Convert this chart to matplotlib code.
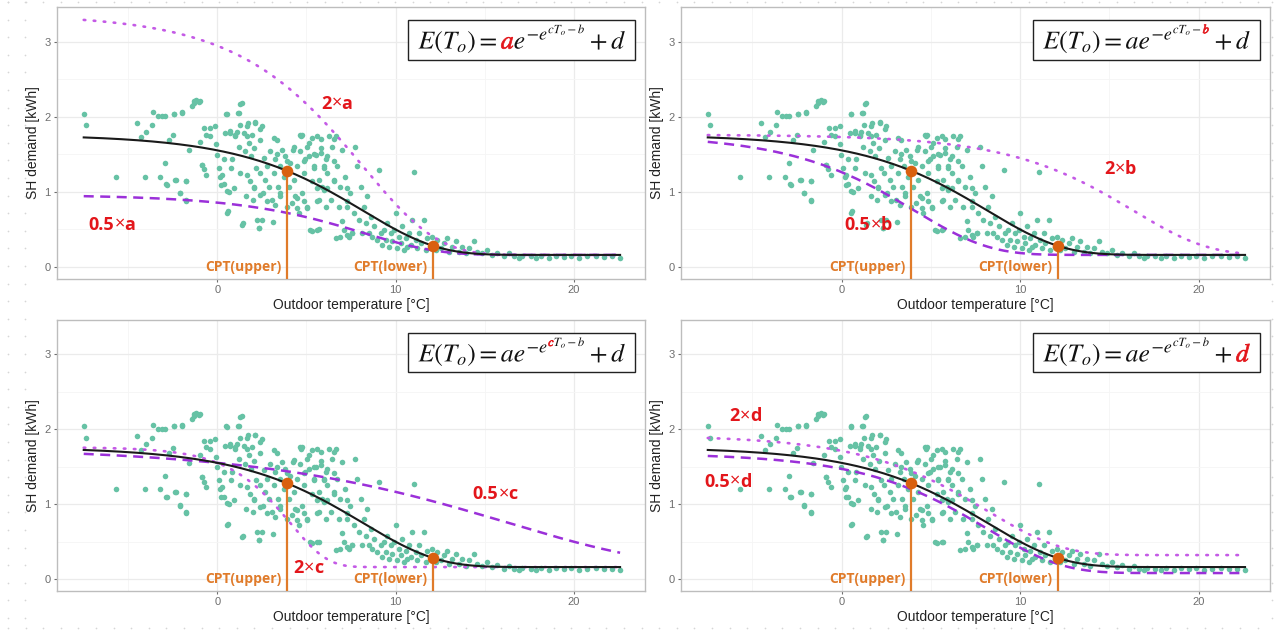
import numpy as np
import matplotlib
matplotlib.use("Agg")
import matplotlib.pyplot as plt
from matplotlib.patches import Rectangle, PathPatch
from matplotlib.path import Path
from matplotlib.transforms import Affine2D, offset_copy
from matplotlib.textpath import TextToPath
from matplotlib.font_manager import FontProperties

plt.rcParams["font.family"] = ["Liberation Sans", "DejaVu Sans"]
plt.rcParams["mathtext.fontset"] = "stix"

# daily outdoor temperature [°C] and space heating demand [kWh]
temp = [-7.51, -7.36, -5.69, -4.49, -4.27, -4.08, -4.0, -3.67, -3.61, -3.35, -3.2, -3.11,
        -2.96, -2.94, -2.83, -2.73, -2.45, -2.49, -2.3, -2.1, -1.99, -1.74, -1.74, -1.59,
        -1.42, -1.33, -1.18, -0.99, -0.96, -0.86, -0.73, -0.62, -0.39, -0.11, -0.07, -0.02,
        0.07, 0.17, 0.22, 0.36, 0.45, 0.51, 0.58, 0.64, 0.73, 0.77, 0.82, 0.92, 1.01, 1.1,
        1.14, 1.2, 1.25, 1.29, 1.39, 1.42, 1.48, 1.57, 1.63, 1.67, 1.7, 1.76, 1.82, 1.89,
        1.95, 1.99, 2.04, 2.08, 2.13, 2.19, 2.23, 2.32, 2.38, 2.42, 2.51, 2.55, 2.6, 2.7,
        2.79, 2.88, 2.98, 3.07, 3.13, 3.16, 3.26, 3.35, 3.39, 3.5, 3.54, 3.63, 3.73, 3.82,
        3.91, 4.01, 4.1, 4.19, 4.25, 4.29, 4.38, 4.48, 4.57, 4.66, 4.72, 4.76, 4.85, 4.94,
        5.04, 5.13, 5.22, 5.32, 5.41, 5.51, 5.6, 5.69, 5.79, 5.88, 5.97, 6.07, 6.16, 6.25,
        4.76, 5.03, 5.13, 5.41, 5.6, 5.69, 5.79, 5.97, 6.07, 6.16, 6.35, 6.44, 6.54, 6.63,
        6.72, 6.81, 6.91, 7.0, 7.1, 7.19, 7.28, 7.38, 7.47, 7.57, 7.66, 7.75, 7.85, 7.94,
        8.04, 8.13, 8.22, 8.32, 8.41, 8.5, 8.6, 8.69, 8.79, 8.97, 9.07, 9.16, 9.25, 9.34,
        9.44, 9.53, 9.63, 9.72, 9.81, 9.91, 10.0, 10.09, 10.19, 10.28, 10.38, 10.47, 10.56,
        10.66, 10.75, 10.85, 10.94, 11.03, 11.13, 11.22, 11.31, 11.41, 11.6, 11.69, 11.78,
        11.97, 12.06, 12.25, 12.34, 12.53, 12.72, 12.9, 13.0, 13.19, 13.38, 13.56, 13.75,
        13.94, 14.12, 14.4, 14.59, 14.87, 15.15, 15.43, 15.71, 16.09, 16.37, 16.65, 16.93,
        17.12, 17.58, 17.87, 18.15, 18.61, 18.99, 19.46, 19.83, 20.3, 20.77, 21.24, 21.71,
        22.17, 22.6, -1.33, -1.05, -2.45, -1.99, 0.54, 1.29, 1.2, 0.73, 1.01, 1.67, 2.13,
        2.42, 3.16, 4.66, 5.32, 5.79, 6.54, -0.39, -0.77, -0.62, -0.86, -1.74, -2.36, -2.87,
        -2.08, -1.74, 0.54, 1.39, 2.32, 2.51, 5.32, 5.69, 6.63, 6.91, 7.28, 7.57, 7.0, 0.26,
        0.36, 0.54, 1.67, 2.04, 2.42, 2.79, 3.26, 3.54, 4.48, 4.85, 4.48, 5.04, 5.6, 6.16,
        3.35, 3.91, 4.29, 4.85, 5.41, 5.97, 6.54, 6.54, 5.6, 7.28, 7.28]
demand = [2.04, 1.89, 1.2, 1.91, 1.73, 1.2, 1.8, 1.89, 2.06, 2.01, 1.2, 2.01,
          2.01, 1.38, 1.09, 1.69, 2.04, 1.75, 1.16, 0.98, 2.06, 1.14, 0.88, 1.55,
          2.14, 2.18, 2.22, 2.21, 1.66, 1.36, 1.85, 1.23, 1.74, 1.87, 1.63, 1.49,
          1.32, 1.2, 1.09, 1.43, 1.78, 2.04, 0.74, 1.0, 1.78, 1.32, 1.43, 1.05, 1.74, 1.8,
          2.05, 1.6, 1.89, 1.25, 2.18, 0.58, 1.78, 1.54, 0.94, 1.74, 1.92, 1.65, 1.14, 1.47,
          1.76, 0.89, 1.07, 1.58, 1.93, 1.32, 0.63, 0.52, 1.25, 1.69, 1.87, 0.98, 1.45, 1.16,
          1.34, 1.07, 1.54, 0.89, 0.6, 1.25, 1.43, 1.69, 1.07, 1.34, 0.98, 1.56, 1.2, 1.47,
          0.8, 1.07, 1.38, 0.85, 1.56, 1.16, 0.94, 1.34, 0.72, 1.54, 1.74, 0.98, 1.25, 1.43,
          0.8, 1.65, 0.49, 1.14, 1.32, 1.49, 0.49, 0.89, 1.58, 1.07, 1.34, 0.8, 1.47, 1.74,
          1.76, 1.6, 1.47, 1.34, 1.74, 1.16, 1.52, 1.03, 1.43, 1.25, 0.89, 1.6, 1.16, 1.74,
          1.34, 0.8, 1.07, 1.56, 0.49, 1.2, 0.8, 0.4, 0.98, 0.45, 0.72, 1.6, 1.34, 0.63,
          1.07, 0.45, 0.8, 0.58, 0.94, 0.45, 0.67, 0.4, 0.54, 0.36, 1.29, 0.45, 0.29, 0.49,
          0.36, 0.58, 0.27, 0.45, 0.34, 0.49, 0.72, 0.25, 0.4, 0.32, 0.54, 0.23, 0.38,
          0.27, 0.45, 0.29, 0.63, 1.27, 0.36, 0.25, 0.45, 0.32, 0.63, 0.23, 0.38,
          0.27, 0.4, 0.23, 0.36, 0.25, 0.32, 0.38, 0.2, 0.27, 0.34, 0.2, 0.27,
          0.18, 0.25, 0.34, 0.2, 0.18, 0.23, 0.16, 0.19, 0.14, 0.18, 0.14, 0.12,
          0.15, 0.14, 0.12, 0.15, 0.12, 0.15, 0.13, 0.15, 0.12, 0.14, 0.15, 0.13,
          0.14, 0.12, 2.21, 2.19, 2.04, 2.05, 2.03, 2.17, 2.05, 1.81, 1.76, 1.88, 1.92,
          1.83, 1.72, 1.76, 1.72, 1.7, 1.7, 1.85, 1.3, 1.76, 1.36, 1.14, 1.16, 1.1,
          0.99, 0.89, 0.72, 0.56, 0.52, 0.63, 0.48, 0.5, 0.39, 0.4, 0.43, 0.45, 0.61, 1.23,
          1.1, 1.01, 1.23, 1.05, 0.96, 0.88, 0.83, 0.94, 0.92, 0.88, 0.79, 0.79, 0.88, 1.05,
          1.5, 1.41, 1.59, 1.41, 1.5, 1.32, 1.41, 1.14, 1.05, 1.05, 0.88]

# fitted Gompertz model E(T) = a*exp(-exp(c*T - b)) + d
fit = {"a": 1.6, "b": 1.97, "c": 0.241, "d": 0.16}
t_range = (-7.5, 22.6)
cpt_upper, cpt_lower = 3.9, 12.1

panel_keys = ["a", "b", "c", "d"]
# where the "2x" and "0.5x" labels sit in each panel (T, E)
label_double = [(6.7, 2.19), (15.6, 1.32), (5.1, 0.16), (-5.4, 2.19)]
label_half = [(-5.9, 0.58), (1.5, 0.57), (15.6, 1.15), (-6.35, 1.32)]

teal = "#66C2A5"
purple_dash = "#9B30D9"
violet_dot = "#C45AE6"
orange = "#E07B2A"
orange_pt = "#D9600F"
red = "#E3161B"
label_font = ["Open Sans", "DejaVu Sans"]
eq_full = r"$E(T_o) = ae^{-e^{cT_o-b}} + d$"
eq_size = 18.5
DPI = 100


def gompertz(t, a, b, c, d):
    return a * np.exp(-np.exp(c * t - b)) + d


def style_axes(ax):
    ax.set_xlim(-9.0, 24.0)
    ax.set_ylim(-0.16, 3.46)
    ax.set_xticks([0, 10, 20])
    ax.set_yticks([0, 1, 2, 3])
    ax.set_xticks([-5, 5, 15], minor=True)
    ax.set_yticks([0.5, 1.5, 2.5], minor=True)
    ax.grid(which="major", color="#EBEBEB", lw=0.9)
    ax.grid(which="minor", color="#F5F5F5", lw=0.6)
    ax.set_axisbelow(True)
    for s in ax.spines.values():
        s.set_color("#BDBDBD")
        s.set_linewidth(1.0)
    ax.tick_params(which="major", length=2.5, color="#6E6E6E", labelsize=8,
                   labelcolor="#6E6E6E", pad=2)
    ax.tick_params(which="minor", length=0)
    ax.set_xlabel("Outdoor temperature [°C]", fontsize=10, color="#222222", labelpad=2)
    ax.set_ylabel("SH demand [kWh]", fontsize=10, color="#222222", labelpad=3)


def text_width(ax, renderer, s, **kw):
    t = ax.text(0, 0, s, **kw)
    w = t.get_window_extent(renderer).width
    t.remove()
    return w


def multiply_label(ax, renderer, x, y, factor, key):
    parts = [(factor, "bold"), ("×", "normal"), (key, "bold")]
    widths = [text_width(ax, renderer, s, fontsize=13, fontweight=w, family=label_font)
              for s, w in parts]
    dx = -sum(widths) / 2
    for (s, w), wd in zip(parts, widths):
        tr = offset_copy(ax.transData, fig=fig, x=dx, y=0, units="dots")
        ax.text(x, y - 0.085, s, transform=tr, fontsize=13, fontweight=w,
                family=label_font, color=red, ha="left", va="baseline", zorder=8)
        dx += wd


# glyph outlines of the model equation, kept separate so one coefficient can be coloured
ttp = TextToPath()
glyph_info, glyph_map, eq_rects = ttp.get_glyphs_mathtext(FontProperties(size=eq_size), eq_full)
eq_glyphs = []
for gid, gx, gy, gscale in glyph_info:
    verts, codes = glyph_map[gid]
    code = int(gid.rsplit("-", 1)[1], 16)
    eq_glyphs.append((code, np.asarray(verts) * gscale + [gx, gy], codes))
eq_rects = [(np.asarray(v), c) for v, c in eq_rects]
all_v = np.vstack([g[1] for g in eq_glyphs] + [r[0] for r in eq_rects])
eq_xmin, eq_xmax = all_v[:, 0].min(), all_v[:, 0].max()
# TextToPath works at 100 pt; scale to pixels at the figure dpi
eq_scale = eq_size / ttp.FONT_SCALE * DPI / 72


def equation_box(ax, key):
    x0, x1, y0, y1 = 10.7, 23.45, 2.76, 3.29
    ax.add_patch(Rectangle((x0, y0), x1 - x0, y1 - y0, facecolor="white",
                           edgecolor="#222222", lw=1.0, zorder=6))
    cx = ax.transData.transform(((x0 + x1) / 2, 0))[0]
    base = ax.transData.transform((0, 2.905))[1]
    left = cx - (eq_xmin + eq_xmax) / 2 * eq_scale
    tr = Affine2D().scale(eq_scale).translate(left, base)
    wanted = (ord(key), 0x1D44E + ord(key) - ord("a"))
    for code, verts, codes in eq_glyphs:
        hot = code in wanted
        p = PathPatch(Path(verts, codes), transform=tr, zorder=7, snap=False,
                      facecolor=red if hot else "#111111",
                      edgecolor=red if hot else "none", lw=0.5 if hot else 0)
        fig.add_artist(p)
    for verts, codes in eq_rects:
        fig.add_artist(PathPatch(Path(verts, codes), transform=tr, zorder=7, snap=False,
                                 facecolor="#111111", edgecolor="none"))


fig = plt.figure(figsize=(12.75, 6.34), dpi=DPI)
positions = [[0.0447, 0.560, 0.4612, 0.429], [0.5341, 0.560, 0.4620, 0.429],
             [0.0447, 0.0678, 0.4612, 0.4275], [0.5341, 0.0678, 0.4620, 0.4275]]

# faint dotted slide background along the edges
bg = fig.add_axes([0, 0, 1, 1], zorder=-5)
bg.set_xlim(0, 1275)
bg.set_ylim(634, 0)
bg.axis("off")
dots_x = np.arange(8, 1275, 17.6)
dots_y = np.arange(2, 634, 17.6)
bg.scatter(dots_x, np.full_like(dots_x, 628), s=1.5, color="#D6D6D6", lw=0)
bg.scatter(dots_x, np.full_like(dots_x, 1.5), s=1.5, color="#D6D6D6", lw=0)
for xc in (8, 25, 1272):
    bg.scatter(np.full_like(dots_y, xc), dots_y, s=1.5, color="#D6D6D6", lw=0)

renderer = fig.canvas.get_renderer()
t_line = np.linspace(t_range[0], t_range[1], 300)

for i, key in enumerate(panel_keys):
    ax = fig.add_axes(positions[i])
    style_axes(ax)

    double = dict(fit)
    double[key] = fit[key] * 2
    half = dict(fit)
    half[key] = fit[key] * 0.5

    ax.scatter(temp, demand, s=16, color=teal, lw=0, zorder=2)
    ax.plot(t_line, gompertz(t_line, **half), color=purple_dash, lw=1.8,
            ls=(0, (4, 2.6)), zorder=3)
    ax.plot(t_line, gompertz(t_line, **double), color=violet_dot, lw=1.9,
            ls=(0, (0.6, 3.2)), dash_capstyle="round", zorder=3)
    ax.plot(t_line, gompertz(t_line, **fit), color="#1A1A1A", lw=1.5, zorder=4)

    for cpt, name in ((cpt_upper, "CPT(upper)"), (cpt_lower, "CPT(lower)")):
        e_cpt = gompertz(cpt, **fit)
        ax.plot([cpt, cpt], [-0.16, e_cpt], color=orange, lw=1.6, zorder=5,
                solid_capstyle="butt")
        ax.scatter([cpt], [e_cpt], s=70, color=orange_pt, lw=0, zorder=6)
        ax.text(cpt - 0.3, -0.005, name, fontsize=10, fontweight="bold",
                family=label_font, color=orange, ha="right", va="center", zorder=6)

    multiply_label(ax, renderer, *label_double[i], "2", key)
    multiply_label(ax, renderer, *label_half[i], "0.5", key)
    equation_box(ax, key)

fig.savefig("out.png", dpi=DPI)
